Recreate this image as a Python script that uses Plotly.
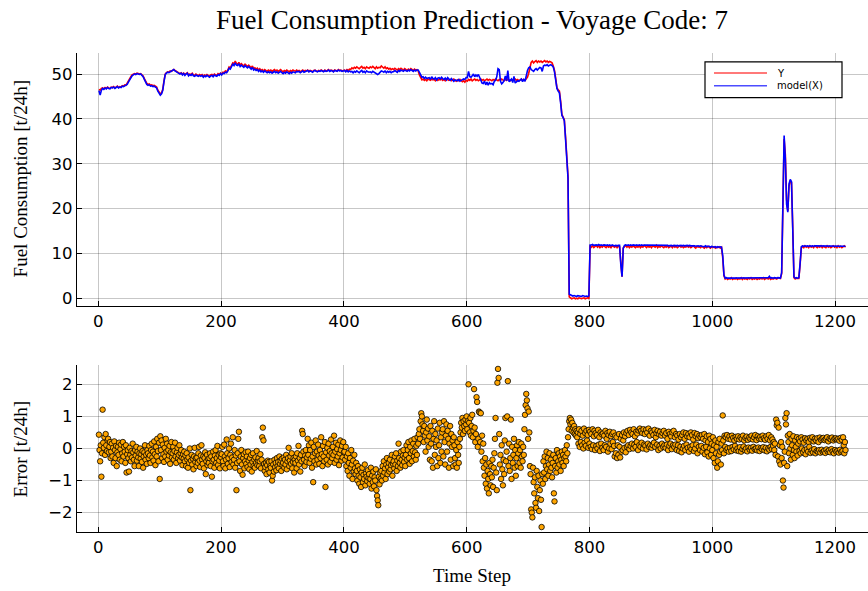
import plotly.graph_objects as go

# ---- measured fuel consumption (Y) and model prediction, sampled every 2nd step ----
line_steps = list(range(1, 1218, 2))

fuel_y = [
    46.6, 46.4, 46.8, 46.9, 46.7, 47.0, 46.8, 47.1, 46.9, 46.8, 47.1, 47.0, 47.2, 46.9, 47.1, 47.3, 47.0, 47.2, 47.1, 47.4,
    47.3, 47.6, 47.5, 47.9, 48.4, 48.9, 49.4, 49.8, 49.9, 50.1, 50.0, 50.2, 50.1, 50.0, 50.1, 49.9, 49.6, 49.0, 48.3, 47.9,
    47.7, 47.8, 47.5, 47.6, 47.4, 47.5, 47.3, 47.1, 46.4, 46.0, 45.6, 45.8, 46.6, 48.5, 50.0, 50.3, 50.5, 50.4, 50.7, 50.6,
    50.9, 51.0, 50.8, 50.6, 50.4, 50.3, 50.1, 50.3, 50.0, 50.2, 49.9, 50.1, 50.3, 49.8, 50.0, 49.9, 50.2, 49.8, 49.7, 50.0,
    49.8, 49.6, 49.9, 49.7, 49.9, 49.5, 49.8, 49.6, 49.9, 49.7, 49.5, 49.8, 49.9, 49.6, 50.0, 49.8, 49.7, 50.1, 49.9, 50.2,
    50.0, 50.4, 50.3, 50.7, 50.5, 50.9, 51.6, 51.4, 52.0, 52.5, 52.3, 52.9, 52.4, 52.2, 52.6, 52.0, 52.3, 52.1, 51.8, 52.2,
    51.9, 51.7, 52.0, 51.6, 51.4, 51.8, 51.2, 51.4, 51.1, 51.3, 50.9, 51.2, 50.8, 51.0, 50.7, 51.0, 50.8, 50.6, 50.9, 50.7,
    50.9, 50.6, 50.8, 51.0, 50.7, 50.9, 50.6, 50.8, 51.0, 50.7, 50.5, 50.8, 50.6, 50.9, 50.7, 50.5, 50.8, 50.6, 50.9, 50.7,
    50.6, 50.9, 50.7, 50.8, 50.5, 50.7, 50.9, 50.6, 50.8, 50.7, 50.9, 50.6, 50.8, 50.7, 50.5, 50.8, 50.9, 50.7, 50.6, 50.8,
    50.7, 50.9, 50.8, 50.6, 50.9, 50.7, 50.8, 51.0, 50.7, 50.9, 50.8, 50.6, 50.9, 50.8, 50.7, 51.0, 50.8, 50.9, 50.7, 50.8,
    50.9, 50.7, 51.0, 50.8, 51.1, 51.0, 51.4, 51.2, 51.5, 51.3, 51.6, 51.4, 51.2, 51.5, 51.7, 51.3, 51.5, 51.2, 51.6, 51.4,
    51.3, 51.6, 51.4, 51.7, 51.5, 51.2, 51.6, 51.3, 51.5, 51.4, 51.8, 51.5, 51.3, 51.6, 51.2, 51.4, 51.1, 51.3, 51.0, 51.2,
    51.0, 51.3, 51.1, 50.9, 51.2, 51.0, 51.3, 51.1, 50.9, 51.2, 51.0, 50.8, 51.1, 50.9, 51.2, 51.0, 50.8, 51.1, 50.9, 51.0,
    50.7, 49.8, 49.0, 48.7, 48.9, 48.6, 48.8, 48.5, 48.9, 48.7, 48.6, 48.9, 48.7, 48.8, 48.5, 48.9, 48.6, 48.8, 48.7, 48.9,
    48.6, 48.8, 48.5, 48.9, 48.7, 48.6, 48.8, 48.5, 48.7, 48.9, 48.6, 48.4, 48.7, 48.5, 48.8, 48.6, 48.3, 48.5, 48.2, 48.6,
    48.4, 48.8, 48.6, 48.9, 48.5, 48.7, 48.9, 48.6, 48.8, 48.5, 48.7, 48.9, 48.6, 48.8, 48.5, 48.7, 48.9, 48.6, 48.8, 48.7,
    48.5, 48.8, 48.6, 48.9, 48.7, 48.5, 48.8, 48.6, 48.9, 48.7, 48.5, 48.8, 48.6, 48.9, 48.7, 48.5, 48.8, 48.6, 48.7, 48.9,
    48.6, 48.8, 48.5, 48.7, 48.9, 48.6, 48.8, 48.6, 48.9, 49.3, 50.2, 51.5, 52.6, 52.9, 52.5, 52.8, 53.0, 52.6, 52.9, 52.7,
    52.9, 52.6, 52.8, 53.0, 52.7, 52.9, 52.6, 52.8, 52.7, 52.5, 51.8, 50.8, 49.0, 46.9, 46.5, 46.2, 44.0, 41.0, 40.4, 39.8,
    36.0, 30.0, 27.2, 0.3, 0.0, -0.1, 0.0, 0.1, -0.1, 0.0, -0.1, 0.1, 0.0, -0.1, 0.0, 0.1, -0.1, 0.0, 0.1, -0.1,
    11.8, 11.4, 11.7, 11.3, 11.6, 11.8, 11.4, 11.7, 11.3, 11.6, 11.4, 11.8, 11.5, 11.3, 11.7, 11.4, 11.6, 11.3, 11.7, 11.5,
    11.4, 11.7, 11.3, 11.6, 11.5, 8.0, 4.8, 11.2, 11.6, 11.8, 11.4, 11.7, 11.3, 11.6, 11.4, 11.7, 11.5, 11.3, 11.6, 11.4,
    11.7, 11.3, 11.6, 11.4, 11.8, 11.5, 11.3, 11.7, 11.4, 11.6, 11.3, 11.7, 11.5, 11.4, 11.8, 11.3, 11.6, 11.4, 11.7, 11.5,
    11.3, 11.6, 11.4, 11.7, 11.3, 11.5, 11.6, 11.3, 11.7, 11.4, 11.6, 11.3, 11.5, 11.7, 11.4, 11.6, 11.3, 11.5, 11.4, 11.7,
    11.4, 11.6, 11.3, 11.5, 11.7, 11.4, 11.2, 11.6, 11.4, 11.5, 11.3, 11.6, 11.4, 11.2, 11.5, 11.3, 11.6, 11.4, 11.2, 11.5,
    11.3, 11.5, 11.2, 11.4, 11.3, 11.5, 11.2, 11.4, 9.0, 5.0, 4.3, 4.5, 4.2, 4.4, 4.3, 4.6, 4.2, 4.4, 4.3, 4.5,
    4.2, 4.4, 4.3, 4.6, 4.2, 4.5, 4.3, 4.4, 4.2, 4.5, 4.3, 4.6, 4.2, 4.4, 4.3, 4.5, 4.2, 4.4, 4.3, 4.5,
    4.3, 4.6, 4.2, 4.4, 4.5, 4.3, 4.6, 4.2, 4.4, 4.3, 4.5, 4.4, 4.3, 4.6, 4.5, 4.4, 5.5, 20.0, 35.5, 32.0,
    22.0, 19.5, 25.0, 26.2, 25.8, 16.0, 4.6, 4.3, 4.5, 4.4, 4.4, 7.5, 11.2, 11.6, 11.3, 11.7, 11.4, 11.6, 11.3, 11.7,
    11.4, 11.6, 11.3, 11.7, 11.5, 11.3, 11.6, 11.4, 11.7, 11.3, 11.6, 11.5, 11.3, 11.7, 11.4, 11.6, 11.3, 11.5, 11.7, 11.4,
    11.6, 11.3, 11.7, 11.4, 11.6, 11.3, 11.5, 11.7, 11.4,
]

fuel_model = [
    46.3, 45.3, 46.4, 46.8, 46.6, 46.9, 46.7, 47.0, 46.8, 46.7, 47.0, 46.9, 47.1, 46.8, 47.0, 47.2, 46.9, 47.1, 47.0, 47.3,
    47.2, 47.4, 47.4, 47.7, 48.2, 48.7, 49.3, 49.6, 49.8, 50.0, 49.9, 50.1, 50.0, 49.9, 50.0, 49.8, 49.4, 48.8, 48.1, 47.7,
    47.5, 47.6, 47.3, 47.4, 47.2, 47.3, 47.1, 46.9, 46.2, 45.8, 45.3, 45.6, 46.4, 48.3, 49.9, 50.2, 50.4, 50.3, 50.5, 50.5,
    50.7, 51.0, 50.7, 50.5, 50.3, 50.2, 50.0, 50.2, 49.8, 50.1, 49.7, 50.0, 50.2, 49.6, 49.9, 49.7, 50.0, 49.6, 49.5, 49.8,
    49.6, 49.5, 49.7, 49.5, 49.7, 49.3, 49.6, 49.4, 49.7, 49.5, 49.3, 49.6, 49.7, 49.4, 49.8, 49.6, 49.5, 49.9, 49.7, 50.1,
    49.8, 50.2, 50.1, 50.4, 50.3, 50.7, 51.3, 51.1, 51.8, 52.2, 51.9, 52.5, 52.0, 51.9, 52.3, 51.7, 52.0, 51.8, 51.5, 51.9,
    51.6, 51.4, 51.7, 51.3, 51.1, 51.5, 50.9, 51.1, 50.8, 51.0, 50.6, 50.9, 50.5, 50.7, 50.4, 50.7, 50.5, 50.3, 50.5, 50.3,
    50.5, 50.2, 50.4, 50.6, 50.3, 50.5, 50.2, 50.4, 50.6, 50.3, 50.1, 50.4, 50.2, 50.5, 50.3, 50.1, 50.4, 50.2, 50.5, 50.3,
    50.3, 50.6, 50.5, 50.6, 50.3, 50.5, 50.7, 50.4, 50.6, 50.6, 50.8, 50.5, 50.7, 50.6, 50.4, 50.7, 50.8, 50.6, 50.5, 50.7,
    50.6, 50.8, 50.7, 50.5, 50.8, 50.6, 50.7, 50.9, 50.6, 50.8, 50.7, 50.5, 50.8, 50.7, 50.6, 50.9, 50.7, 50.8, 50.6, 50.7,
    50.8, 50.5, 50.8, 50.5, 50.7, 50.5, 50.6, 50.3, 50.6, 50.4, 50.7, 50.5, 50.3, 50.6, 50.8, 50.4, 50.6, 50.3, 50.7, 50.5,
    50.4, 50.5, 50.3, 50.6, 50.4, 50.1, 50.0, 49.9, 50.1, 50.3, 50.7, 50.6, 50.4, 50.7, 50.3, 50.6, 50.4, 50.6, 50.3, 50.5,
    50.5, 50.8, 50.6, 50.4, 50.8, 50.6, 50.9, 50.7, 50.6, 50.9, 50.7, 50.6, 50.9, 50.7, 51.0, 50.8, 50.6, 50.9, 50.7, 50.9,
    50.9, 50.4, 49.7, 49.3, 49.4, 49.0, 49.3, 49.0, 49.1, 49.2, 48.8, 49.4, 49.0, 48.9, 49.2, 48.7, 49.1, 49.2, 48.9, 49.3,
    49.0, 48.8, 49.1, 48.7, 49.2, 48.9, 48.6, 49.0, 48.8, 48.4, 48.7, 48.6, 48.5, 48.8, 48.4, 48.6, 48.7, 48.9, 48.8, 49.2,
    49.2, 50.6, 49.4, 49.3, 49.6, 50.0, 49.4, 49.8, 49.5, 49.9, 49.3, 48.6, 48.0, 47.9, 48.4, 47.6, 48.2, 47.5, 48.1, 47.8,
    47.9, 47.6, 48.4, 48.6, 49.4, 51.2, 51.0, 48.4, 47.8, 48.1, 48.6, 49.6, 48.5, 50.8, 48.3, 48.6, 48.9, 48.1, 49.5, 48.0,
    48.3, 48.5, 48.4, 48.6, 48.9, 48.3, 48.8, 48.4, 49.8, 50.8, 51.4, 51.6, 51.0, 50.8, 50.6, 51.0, 51.2, 50.9, 51.3, 51.5,
    51.4, 50.6, 51.8, 52.0, 51.9, 52.1, 51.8, 52.0, 52.1, 51.9, 51.6, 50.5, 48.7, 46.8, 46.2, 45.8, 43.5, 40.8, 40.3, 39.6,
    35.5, 29.5, 26.8, 0.9, 0.7, 0.6, 0.5, 0.6, 0.5, 0.4, 0.6, 0.5, 0.5, 0.4, 0.6, 0.5, 0.4, 0.5, 0.4, 0.5,
    11.9, 11.9, 12.0, 11.8, 11.9, 11.9, 11.8, 12.0, 11.8, 11.9, 11.8, 11.9, 11.9, 11.8, 11.9, 11.8, 11.9, 11.7, 11.9, 11.8,
    11.7, 11.8, 11.7, 11.8, 11.8, 7.5, 4.8, 11.2, 11.8, 11.9, 11.8, 11.9, 11.8, 11.9, 11.8, 11.9, 11.8, 11.8, 11.9, 11.8,
    11.9, 11.8, 11.9, 11.8, 11.9, 11.9, 11.8, 11.9, 11.8, 11.9, 11.8, 11.9, 11.8, 11.9, 11.9, 11.8, 11.9, 11.8, 11.9, 11.8,
    11.8, 11.9, 11.8, 11.8, 11.7, 11.8, 11.8, 11.7, 11.8, 11.8, 11.7, 11.8, 11.7, 11.8, 11.8, 11.7, 11.8, 11.7, 11.8, 11.8,
    11.7, 11.8, 11.7, 11.7, 11.8, 11.7, 11.6, 11.7, 11.7, 11.6, 11.7, 11.6, 11.6, 11.5, 11.7, 11.5, 11.6, 11.6, 11.4, 11.6,
    11.5, 11.4, 11.5, 11.3, 11.5, 11.4, 11.5, 11.4, 9.5, 5.2, 4.5, 4.6, 4.5, 4.5, 4.6, 4.5, 4.5, 4.6, 4.5, 4.6,
    4.5, 4.5, 4.6, 4.5, 4.5, 4.6, 4.5, 4.6, 4.5, 4.5, 4.6, 4.5, 4.6, 4.5, 4.5, 4.6, 4.5, 4.5, 4.6, 4.5,
    4.6, 4.5, 4.5, 4.6, 4.5, 4.6, 4.9, 4.5, 4.6, 4.5, 4.6, 4.5, 4.5, 4.6, 4.6, 4.5, 5.8, 21.0, 36.3, 31.0,
    21.0, 19.2, 25.5, 26.5, 26.0, 15.5, 4.8, 4.5, 4.6, 4.5, 4.6, 7.8, 11.5, 11.7, 11.6, 11.7, 11.6, 11.7, 11.6, 11.7,
    11.6, 11.7, 11.6, 11.7, 11.7, 11.6, 11.7, 11.6, 11.7, 11.6, 11.7, 11.7, 11.6, 11.7, 11.6, 11.7, 11.6, 11.7, 11.7, 11.6,
    11.7, 11.6, 11.7, 11.6, 11.7, 11.6, 11.7, 11.7, 11.6,
]

# ---- prediction error (model - Y) at every time step ----
time_step = list(range(1, 1218))

error = [
    0.43, -0.05, -0.40, 0.10, -0.88, -0.15, 1.21, 0.18, 0.02, 0.35, -0.20, 0.45, 0.10, -0.08, 0.25, 0.30, -0.12, 0.05, 0.20, -0.30,
    -0.10, 0.15, -0.25, 0.02, -0.45, 0.22, -0.05, -0.30, 0.08, -0.55, -0.12, 0.05, -0.20, 0.18, -0.35, -0.02, 0.12, -0.40, -0.15, 0.20,
    -0.25, 0.05, -0.10, -0.45, 0.10, -0.75, -0.18, -0.05, -0.30, -0.72, 0.02, -0.20, -0.40, -0.08, -0.28, 0.15, -0.12, -0.35, -0.55, -0.05,
    -0.22, 0.05, -0.38, -0.10, -0.28, -0.55, -0.15, 0.00, -0.32, -0.18, -0.42, -0.08, -0.60, -0.25, -0.12, 0.10, -0.35, -0.20, -0.48, -0.05,
    -0.15, -0.30, 0.08, -0.22, -0.45, -0.05, 0.15, -0.28, -0.10, -0.38, 0.22, -0.18, -0.52, 0.05, -0.25, 0.30, -0.08, -0.40, 0.18, -0.95,
    0.38, -0.05, 0.25, -0.30, 0.12, -0.18, -0.42, 0.02, -0.25, 0.30, -0.10, 0.15, -0.35, -0.05, -0.22, 0.08, -0.48, -0.12, 0.20, -0.28,
    -0.15, 0.05, -0.35, -0.08, 0.18, -0.25, -0.45, -0.12, 0.02, -0.30, -0.20, 0.10, -0.38, -0.15, -0.05, -0.28, -0.52, -0.18, -0.32, -0.10,
    -0.40, -0.22, -0.55, -0.15, -0.35, -0.60, -0.28, -0.45, 0.00, -1.30, -0.38, -0.20, -0.50, -0.32, -0.65, -0.25, 0.02, -0.42, -0.30, -0.55,
    -0.28, -0.45, -0.15, 0.05, -0.38, -0.58, -0.22, 0.10, -0.35, -0.48, -0.25, -0.62, -0.30, -0.12, -0.80, -0.40, -0.20, -0.52, -0.33, -0.45,
    -0.30, -0.15, -0.55, -0.25, -0.88, -0.40, -0.10, -0.35, -0.60, -0.22, -0.05, -0.45, -0.30, 0.08, -0.52, -0.20, -0.38, -0.62, -0.15, -0.28,
    -0.18, 0.05, -0.40, -0.55, 0.12, -0.25, -0.62, -0.35, 0.28, -0.15, -0.48, -0.30, 0.00, -0.58, -0.20, 0.15, -0.42, -0.28, 0.35, -0.50,
    -0.35, -0.05, -0.60, -0.22, -1.30, -0.45, -0.15, 0.30, 0.52, -0.40, -0.70, -0.25, -0.05, -0.50, -0.82, -0.30, -0.18, -0.62, -0.40, -0.12,
    -0.48, -0.25, -0.58, -0.10, -0.38, -0.65, -0.30, -0.50, -0.20, -0.72, -0.42, -0.15, -0.55, -0.35, -0.60, -0.28, -0.45, -0.08, -0.52, -0.38,
    -0.30, -0.55, -0.40, -0.18, -0.62, -0.35, 0.35, 0.65, 0.25, -0.48, -0.70, -0.58, -0.45, -0.80, -0.52, -0.38, -0.65, -0.42, -0.75, -0.55,
    -0.60, -0.40, -1.00, -0.85, -0.50, -0.72, -0.35, -0.58, -0.45, -0.68, -0.30, -0.55, -0.42, -0.62, -0.25, -0.48, -0.38, -0.70, -0.32, -0.52,
    -0.45, -0.28, -0.60, -0.35, -0.50, -0.20, -0.65, -0.40, -0.30, 0.02, -0.55, -0.38, -0.25, -0.48, -0.15, -0.62, -0.42, -0.30, -0.75, -0.35,
    -0.45, -0.25, -0.62, -0.15, -0.38, 0.08, -0.50, -0.30, -0.72, -0.20, -0.40, 0.55, 0.45, -0.10, -0.35, -0.55, -0.22, -0.05, -0.42, -0.28,
    0.30, -0.20, 0.10, -0.45, -0.05, -0.32, 0.18, -0.60, -0.25, -1.05, 0.05, -0.40, -0.15, 0.25, -0.50, -0.10, -0.35, 0.12, -0.22, -0.48,
    -0.05, -0.30, 0.35, -0.18, -0.55, 0.08, -0.25, -0.40, 0.20, -1.20, -0.12, -0.35, 0.02, -0.50, 0.15, -0.22, -0.08, -0.42, 0.28, -0.15,
    -0.30, 0.05, -0.20, 0.40, -0.45, -0.10, 0.18, -0.35, -0.02, -0.25, 0.12, -0.52, -0.15, 0.25, -0.05, -0.38, 0.08, -0.28, 0.20, -0.12,
    -0.10, -0.35, 0.05, -0.55, -0.25, -0.70, -0.15, -0.45, -0.85, -0.30, -0.60, -0.05, -0.50, -0.95, -0.38, -0.72, -0.20, -0.62, -0.80, -0.45,
    -0.70, -1.00, -0.55, -0.85, -1.10, -0.65, -0.90, -1.20, -0.75, -0.60, -1.05, -0.82, -0.95, -0.50, -1.15, -0.78, -0.88, -1.02, -0.68, -0.92,
    -0.80, -1.10, -0.95, -0.60, -1.25, -0.85, -1.05, -0.72, -1.18, -0.90, -1.00, -0.65, -1.30, -1.48, -1.62, -1.77, -0.88, -1.12, -0.75, -0.95,
    -0.70, -1.00, -0.55, -0.85, -0.40, -0.75, -0.62, -0.95, -0.50, -0.30, -0.80, -0.58, -0.45, -0.72, -0.35, -0.65, -0.52, -0.20, -0.85, -0.48,
    -0.40, -0.62, -0.25, -0.50, -0.15, -0.70, -0.38, -0.55, 0.15, -0.30, -0.45, -0.60, -0.10, -0.35, -0.52, -0.22, -0.05, -0.42, -0.28, -0.55,
    -0.20, 0.10, -0.35, -0.05, 0.20, -0.30, -0.48, 0.05, -0.15, 0.25, -0.40, -0.08, 0.15, -0.25, 0.30, -0.12, -0.35, 0.08, -0.20, 0.35,
    0.15, 0.45, 0.60, 0.30, 0.85, 1.10, 1.00, 0.75, 0.55, 0.20, 0.70, 0.40, -0.10, 0.50, 0.90, 0.25, 0.62, 0.05, 0.38, -0.35,
    0.70, 0.15, -0.40, 0.55, -0.60, 0.30, 0.85, -0.20, 0.45, 0.05, 0.25, -0.55, 0.62, -0.30, 0.10, 0.80, -0.45, 0.35, -0.10, 0.50,
    0.60, -0.25, 0.85, 0.20, -0.50, 0.40, 0.75, -0.10, 0.55, 0.30, -0.60, 0.15, 0.70, -0.35, 0.45, 0.05, 0.25, -0.55, 0.35, 0.10,
    -0.30, -0.50, -0.05, -0.60, 0.20, -0.20, -0.45, 0.05, 0.30, 0.50, 0.80, 0.65, 0.95, 0.45, 0.85, 0.70, 0.55, 0.90, 0.75, 1.00,
    0.60, 0.85, 2.00, 0.80, 0.50, 0.95, 0.40, 0.70, 1.05, 0.35, 0.55, 1.85, 0.65, 0.20, 0.45, 1.60, 1.45, 0.05, 0.30, 1.15,
    1.12, 0.20, 1.10, -0.10, 0.40, -0.40, 0.15, -0.60, -0.85, -0.30, -1.10, -0.50, -1.25, -0.70, -0.95, -1.40, -0.45, -0.80, -1.15, -0.55,
    -0.90, -0.35, -1.20, -0.60, -0.15, 0.30, 0.95, -0.75, -1.30, 2.05, 2.48, 2.20, 0.45, -0.50, -0.20, -0.95, 0.10, -0.65, -1.15, -0.35,
    -0.80, 0.25, 0.95, -0.40, -0.10, 1.00, 2.10, -0.55, 0.15, -0.70, -0.30, 0.90, -0.95, 0.05, -0.45, -0.20, 0.30, -0.60, -0.05, -0.85,
    -0.30, 0.10, -0.55, -0.15, 0.20, -0.45, -0.05, -0.60, 0.15, -0.25, -0.40, 0.05, -0.20, 0.60, 1.05, 1.35, 1.70, 1.50, 1.25, 0.30,
    1.15, 0.50, -0.55, -0.80, -1.90, -2.00, -2.15, -0.60, -1.05, -1.40, -0.90, -1.70, -1.85, -0.70, -1.20, -1.55, -0.85, -1.95, -1.30, -1.00,
    -1.60, -2.45, -0.80, -1.10, -0.40, -0.75, -0.25, -0.95, -0.55, -0.10, -0.65, -0.30, -0.85, -0.50, -0.15, -0.70, -0.35, -0.60, -0.90, -0.45,
    -0.20, -1.40, -1.65, -0.55, -0.30, -0.75, -0.05, -0.60, -0.40, -0.15, -0.50, -0.25, -0.70, -0.35, -0.10, -0.45, -0.20, -0.55, -0.30, -0.05,
    -0.25, -0.40, 0.10, -0.15, 0.35, 0.60, 0.85, 0.95, 0.75, 0.90, 0.55, 0.80, 0.65, 0.50, 0.70, 0.45, 0.60, 0.40, 0.55, 0.35,
    0.50, 0.15, 0.60, 0.05, 0.45, 0.20, 0.55, 0.10, 0.40, 0.00, 0.62, 0.18, 0.48, 0.08, 0.55, 0.25, 0.42, 0.02, 0.58, 0.15,
    0.52, 0.05, 0.45, -0.02, 0.60, 0.10, 0.38, 0.55, -0.05, 0.48, 0.08, 0.42, 0.00, 0.58, 0.12, 0.35, -0.08, 0.50, 0.15, 0.44,
    0.02, 0.47, -0.05, 0.40, 0.10, 0.55, 0.05, 0.30, 0.48, -0.10, 0.42, 0.00, 0.52, 0.15, 0.38, -0.02, 0.45, 0.20, 0.50, 0.08,
    -0.25, 0.40, -0.15, 0.35, -0.30, 0.10, -0.20, 0.45, 0.05, -0.28, 0.30, -0.10, 0.42, -0.05, 0.25, 0.50, 0.02, 0.38, -0.12, 0.48,
    0.05, 0.55, 0.10, 0.42, -0.02, 0.58, 0.08, 0.50, 0.15, 0.45, 0.00, 0.60, 0.12, 0.38, 0.05, 0.52, 0.20, 0.47, -0.05, 0.56,
    0.10, 0.62, 0.05, 0.55, 0.18, 0.48, 0.00, 0.60, 0.12, 0.45, 0.08, 0.58, -0.03, 0.50, 0.15, 0.62, 0.05, 0.40, 0.10, 0.55,
    0.02, 0.50, 0.10, 0.42, 0.18, 0.58, 0.05, 0.35, 0.48, 0.12, 0.55, -0.05, 0.45, 0.08, 0.52, 0.00, 0.40, 0.15, 0.48, 0.05,
    0.55, 0.10, 0.40, 0.02, 0.48, 0.12, 0.30, -0.05, 0.52, 0.08, 0.45, 0.15, 0.38, -0.02, 0.50, 0.10, 0.55, 0.05, 0.35, 0.12,
    0.45, -0.05, 0.40, 0.10, 0.28, -0.08, 0.45, 0.05, 0.35, -0.12, 0.42, 0.00, 0.50, 0.08, 0.30, -0.05, 0.48, 0.12, 0.38, 0.02,
    0.45, -0.10, 0.35, 0.05, 0.50, -0.02, 0.42, 0.10, 0.28, -0.08, 0.48, 0.00, 0.38, 0.12, 0.45, -0.15, 0.32, 0.05, 0.40, -0.05,
    0.35, 0.08, 0.42, -0.10, 0.30, 0.02, 0.45, -0.18, 0.25, 0.05, 0.38, -0.12, 0.20, -0.25, 0.40, 0.00, 0.30, -0.20, 0.15, -0.05,
    0.35, -0.30, 0.10, -0.45, 0.25, -0.15, 0.05, -0.60, -0.40, 0.20, -0.20, 0.30, -0.10, -0.50, 0.15, -0.05, 1.03, 0.25, -0.15, 0.40,
    0.05, 0.35, -0.05, 0.42, 0.00, 0.30, -0.10, 0.38, 0.02, 0.28, -0.08, 0.40, 0.05, 0.33, -0.03, 0.25, 0.08, 0.36, -0.06, 0.30,
    0.00, 0.38, -0.08, 0.28, 0.04, 0.35, -0.10, 0.30, -0.02, 0.40, 0.06, 0.25, -0.05, 0.33, 0.00, 0.37, -0.09, 0.27, 0.03, 0.34,
    -0.04, 0.30, 0.02, 0.40, -0.07, 0.28, 0.05, 0.35, -0.02, 0.42, 0.00, 0.26, -0.06, 0.38, 0.03, 0.31, -0.08, 0.36, 0.01, 0.29,
    -0.03, 0.40, 0.04, 0.32, -0.06, 0.27, 0.02, 0.38, -0.09, 0.30, 0.00, 0.42, -0.04, 0.25, 0.05, 0.35, -0.02, 0.28, 0.08, 0.20,
    -0.05, 0.15, -0.20, 0.90, 0.72, 0.80, -0.25, 0.65, -0.40, 0.10, -0.50, 0.20, -0.30, 0.05, -1.00, -1.22, -0.45, -0.10, 0.95, 0.75,
    1.10, -0.55, 0.40, 0.20, -0.15, 0.45, 0.00, -0.35, 0.30, 0.10, -0.20, 0.38, -0.05, -0.30, 0.25, 0.05, -0.10, 0.35, -0.22, 0.15,
    0.30, -0.08, 0.22, -0.15, 0.35, 0.00, 0.28, -0.12, 0.18, -0.05, 0.32, -0.18, 0.25, -0.02, 0.30, -0.10, 0.20, 0.05, 0.33, -0.14,
    0.28, -0.06, 0.35, -0.12, 0.22, -0.02, 0.30, -0.15, 0.25, -0.08, 0.32, -0.10, 0.20, -0.05, 0.34, -0.13, 0.27, -0.04, 0.31, -0.11,
    0.33, -0.08, 0.26, -0.14, 0.30, -0.03, 0.35, -0.10, 0.22, -0.06, 0.31, -0.12, 0.28, -0.02, 0.34, -0.09, 0.25, -0.15, 0.30, -0.05,
    0.32, -0.10, 0.28, -0.07, 0.30, -0.13, 0.24, -0.04, 0.33, -0.11, 0.27, -0.08, 0.35, 0.10, -0.15, 0.20, -0.05,
]

x_ticks = [0, 200, 400, 600, 800, 1000, 1200]
fuel_ticks = [0, 10, 20, 30, 40, 50]
error_ticks = [-2, -1, 0, 1, 2]

assert len(fuel_y) == len(line_steps) == len(fuel_model)
assert len(error) == len(time_step)

W, H = 868, 591
L = 77
SERIF = "Liberation Serif"
SANS = "DejaVu Sans"


def px_x(p):
    return (p - L) / (W - L)


def px_y(p):
    return 1 - p / H


fig = go.Figure()
fig.add_trace(go.Scatter(x=line_steps, y=fuel_y, mode="lines", name="Y",
                         line=dict(color="#ff0000", width=1.6), xaxis="x", yaxis="y"))
fig.add_trace(go.Scatter(x=line_steps, y=fuel_model, mode="lines", name="model(X)",
                         line=dict(color="#0000ff", width=1.6), xaxis="x", yaxis="y"))
fig.add_trace(go.Scatter(x=time_step, y=error, mode="markers", name="error",
                         marker=dict(color="#ffa500", size=5.5,
                                     line=dict(color="#000000", width=0.8)),
                         xaxis="x2", yaxis="y2"))

grid = "rgba(0,0,0,0.22)"
common_x = dict(range=[-34.7, 1253.6], tickvals=x_ticks, showgrid=True, gridcolor=grid,
                gridwidth=1, showline=True, linecolor="black", linewidth=1.3,
                ticks="inside", ticklen=5, tickcolor="black", zeroline=False,
                tickfont=dict(family=SANS, size=16.5, color="black"), domain=[0, 1])
common_y = dict(showgrid=True, gridcolor=grid, gridwidth=1, showline=True,
                linecolor="black", linewidth=1.3, ticks="inside", ticklen=5,
                tickcolor="black", zeroline=False,
                tickfont=dict(family=SANS, size=16.5, color="black"))

fig.update_layout(
    width=W, height=H,
    margin=dict(l=L, r=0, t=0, b=0),
    paper_bgcolor="white", plot_bgcolor="white",
    showlegend=False,
    xaxis=dict(anchor="y", **common_x),
    yaxis=dict(anchor="x", domain=[px_y(306.7), px_y(53.3)], range=[-1.64, 54.67],
               tickvals=fuel_ticks, **common_y),
    xaxis2=dict(anchor="y2", **common_x),
    yaxis2=dict(anchor="x2", domain=[px_y(534.3), px_y(366)], range=[-2.62, 2.61],
                tickvals=error_ticks, **common_y),
)

# titles
fig.add_annotation(text="Fuel Consumption Prediction - Voyage Code: 7", xref="paper", yref="paper",
                   x=px_x(472), y=px_y(20), showarrow=False, xanchor="center", yanchor="middle",
                   font=dict(family=SERIF, size=27, color="black"))
fig.add_annotation(text="Fuel Consumption [t/24h]", xref="paper", yref="paper",
                   x=px_x(20), y=px_y(180), textangle=-90, showarrow=False,
                   xanchor="center", yanchor="middle", font=dict(family=SERIF, size=19, color="black"))
fig.add_annotation(text="Error [t/24h]", xref="paper", yref="paper",
                   x=px_x(20), y=px_y(450), textangle=-90, showarrow=False,
                   xanchor="center", yanchor="middle", font=dict(family=SERIF, size=19, color="black"))
fig.add_annotation(text="Time Step", xref="paper", yref="paper",
                   x=px_x(472), y=px_y(577), showarrow=False,
                   xanchor="center", yanchor="middle", font=dict(family=SERIF, size=19, color="black"))

# legend box
fig.add_shape(type="rect", xref="paper", yref="paper",
              x0=px_x(705), x1=px_x(842), y0=px_y(98), y1=px_y(62),
              line=dict(color="black", width=1.2), fillcolor="white")
for yy, col, label in [(73.3, "rgba(255,0,0,0.7)", "Y"), (86.0, "rgba(0,0,255,0.7)", "model(X)")]:
    fig.add_shape(type="line", xref="paper", yref="paper",
                  x0=px_x(714), x1=px_x(767), y0=px_y(yy), y1=px_y(yy),
                  line=dict(color=col, width=1.6))
    fig.add_annotation(text=label, xref="paper", yref="paper", x=px_x(775), y=px_y(yy),
                       showarrow=False, xanchor="left", yanchor="middle",
                       font=dict(family=SANS, size=10, color="black"))

fig.write_html("out.html")
